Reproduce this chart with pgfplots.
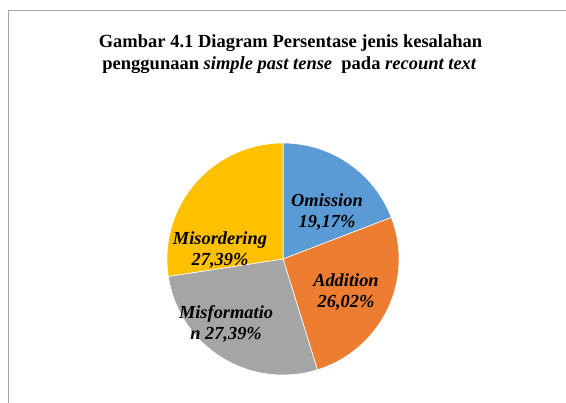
\documentclass[border=0pt]{standalone}
\usepackage{fontspec}
\setmainfont{Liberation Serif}
\usepackage{pgfplots}
\usepackage{pgfplotstable}
\pgfplotsset{compat=1.18}
\definecolor{cOm}{RGB}{91,155,213}
\definecolor{cAd}{RGB}{237,125,49}
\definecolor{cMf}{RGB}{165,165,165}
\definecolor{cMo}{RGB}{255,192,0}
\definecolor{frame}{RGB}{166,166,166}
\pgfplotstableread{
name value
Omission 19.17
Addition 26.02
Misformation 27.39
Misordering 27.39
}\piedata
\pgfplotstablegetelem{0}{value}\of\piedata\let\vA\pgfplotsretval
\pgfplotstablegetelem{1}{value}\of\piedata\let\vB\pgfplotsretval
\pgfplotstablegetelem{2}{value}\of\piedata\let\vC\pgfplotsretval
\pgfplotstablegetelem{3}{value}\of\piedata\let\vD\pgfplotsretval
\pgfmathsetmacro{\tot}{\vA+\vB+\vC+\vD}
\pgfmathsetmacro{\aA}{90}
\pgfmathsetmacro{\aB}{\aA-\vA/\tot*360}
\pgfmathsetmacro{\aC}{\aB-\vB/\tot*360}
\pgfmathsetmacro{\aD}{\aC-\vC/\tot*360}
\pgfmathsetmacro{\aE}{\aD-\vD/\tot*360}
\begin{document}%
\begin{tikzpicture}
\draw[frame, line width=1bp] (8bp,0) -- (8bp,392bp) -- (566bp,392bp);
\node[anchor=base, inner sep=0pt, font=\fontsize{18.5bp}{21bp}\selectfont\bfseries] at (290.5bp,355bp) {Gambar 4.1 Diagram Persentase jenis kesalahan};
\node[anchor=base, inner sep=0pt, font=\fontsize{18.5bp}{21bp}\selectfont\bfseries] at (289.5bp,333bp) {penggunaan \textit{simple past tense}\ \ pada \textit{recount text}};
\begin{axis}[
  at={(283bp,144bp)}, anchor=center,
  width=232bp, height=232bp, scale only axis,
  xmin=-1, xmax=1, ymin=-1, ymax=1,
  hide axis, clip=false,
]
\fill[cOm, draw=white, line width=0.6bp] (axis cs:0,0) -- (axis cs:{cos(\aA)},{sin(\aA)}) arc[start angle=\aA, end angle=\aB, radius=116bp] -- cycle;
\fill[cAd, draw=white, line width=0.6bp] (axis cs:0,0) -- (axis cs:{cos(\aB)},{sin(\aB)}) arc[start angle=\aB, end angle=\aC, radius=116bp] -- cycle;
\fill[cMf, draw=white, line width=0.6bp] (axis cs:0,0) -- (axis cs:{cos(\aC)},{sin(\aC)}) arc[start angle=\aC, end angle=\aD, radius=116bp] -- cycle;
\fill[cMo, draw=white, line width=0.6bp] (axis cs:0,0) -- (axis cs:{cos(\aD)},{sin(\aD)}) arc[start angle=\aD, end angle=\aE, radius=116bp] -- cycle;
\tikzset{lab/.style={align=center, inner sep=0pt, font=\fontsize{18.4bp}{21bp}\selectfont\bfseries\itshape}}
\node[lab] at (axis cs:0.379,0.405) {Omission\\19,17\%};
\node[lab] at (axis cs:0.543,-0.284) {Addition\\26,02\%};
\node[lab] at (axis cs:-0.491,-0.560) {Misformatio\\n 27,39\%};
\node[lab] at (axis cs:-0.543,0.078) {Misordering\\27,39\%};
\end{axis}
\pgfresetboundingbox
\path[use as bounding box] (0,0) rectangle (566bp,403bp);
\end{tikzpicture}%
\end{document}
